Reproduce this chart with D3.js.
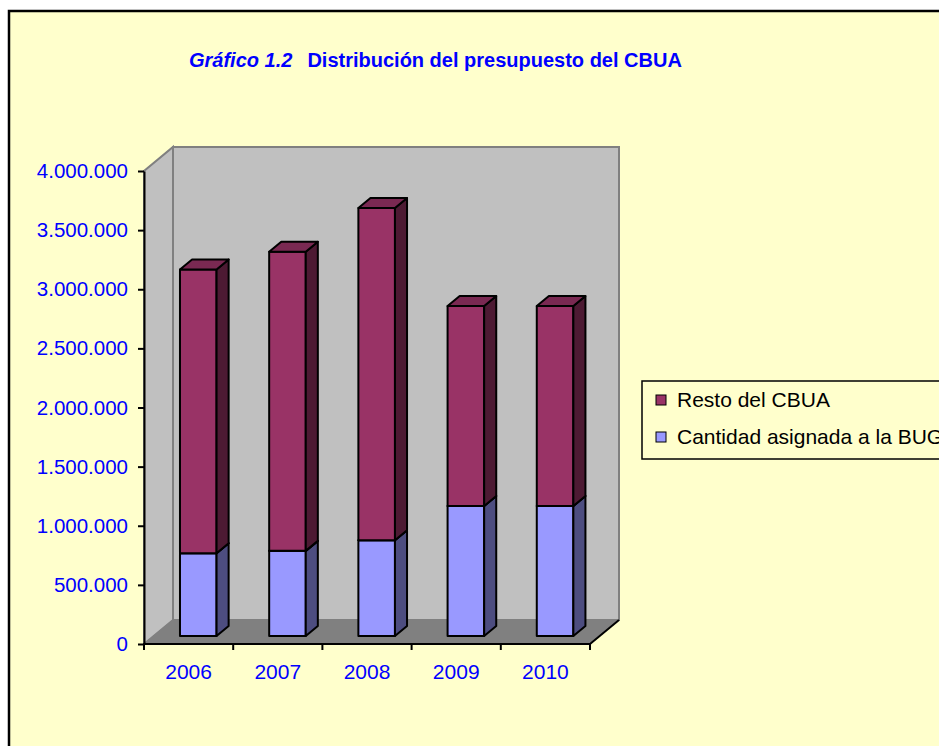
<!DOCTYPE html>
<html>
<head>
<meta charset="utf-8">
<script src="https://cdn.jsdelivr.net/npm/d3@7"></script>
<style>
  body { margin: 0; background: #ffffff; }
  text { font-family: "Liberation Sans", Arial, sans-serif; }
</style>
</head>
<body>
<div id="chart"></div>
<script>

var years = ['2006', '2007', '2008', '2009', '2010'];
var cantidadBUG = [700000, 720000, 810000, 1100000, 1100000];
var restoCBUA = [2400000, 2530000, 2810000, 1690000, 1690000];
var yTicks = [0, 500000, 1000000, 1500000, 2000000, 2500000, 3000000, 3500000, 4000000];
var seriesNames = ['Cantidad asignada a la BUG', 'Resto del CBUA'];

var width = 939, height = 746,
    DX = 29, DY = 24,              // depth of the 3d box
    barDepth = [1 / 3, 0.75],      // bars sit in the middle of the box
    colors = {
      bug:   {front: '#9999ff', side: '#4d4d80', top: '#7a7acc'},
      resto: {front: '#993366', side: '#4d1a33', top: '#7a2952'}
    };

var rows = years.map(function (d, i) {
  return {year: d, bug: cantidadBUG[i], resto: restoCBUA[i]};
});
var stacked = d3.stack().keys(['bug', 'resto'])(rows);

var svg = d3.select('#chart').append('svg')
    .attr('width', width)
    .attr('height', height);

// outer chart area
svg.append('rect')
    .attr('x', 9).attr('y', 11)
    .attr('width', 1000).attr('height', 800)
    .attr('fill', '#ffffcc')
    .attr('stroke', '#000').attr('stroke-width', 2.5);

var x = d3.scaleBand().domain(years).range([144, 590]);
var y = d3.scaleLinear().domain([0, 4000000]).range([644, 171]);

function pt(px, v, depth) {
  return [px + depth * DX, y(v) - depth * DY];
}
function poly(points) {
  return points.map(function (p) { return p.join(','); }).join(' ');
}

var x0 = x.range()[0], x1 = x.range()[1];

// back wall
svg.append('polygon')
    .attr('points', poly([pt(x0, 0, 1), pt(x0, 4000000, 1), pt(x1, 4000000, 1), pt(x1, 0, 1)]))
    .attr('fill', '#c0c0c0').attr('stroke', '#808080').attr('stroke-width', 2);
// left wall
svg.append('polygon')
    .attr('points', poly([pt(x0, 0, 0), pt(x0, 4000000, 0), pt(x0, 4000000, 1), pt(x0, 0, 1)]))
    .attr('fill', '#c0c0c0').attr('stroke', '#808080').attr('stroke-width', 2);
// floor
svg.append('polygon')
    .attr('points', poly([pt(x0, 0, 0), pt(x1, 0, 0), pt(x1, 0, 1), pt(x0, 0, 1)]))
    .attr('fill', '#808080').attr('stroke', '#808080').attr('stroke-width', 1);
svg.append('line')
    .attr('x1', pt(x1, 0, 0)[0]).attr('y1', pt(x1, 0, 0)[1])
    .attr('x2', pt(x1, 0, 1)[0]).attr('y2', pt(x1, 0, 1)[1])
    .attr('stroke', '#000').attr('stroke-width', 2);

// bars
var bw = x.bandwidth() * 0.41,
    f0 = barDepth[0], f1 = barDepth[1];

stacked.forEach(function (layer) {
  var c = colors[layer.key];
  layer.forEach(function (d) {
    var bx0 = x(d.data.year) + (x.bandwidth() - bw) / 2,
        bx1 = bx0 + bw,
        v0 = d[0], v1 = d[1];
    var g = svg.append('g').attr('class', 'bar ' + layer.key);
    g.append('polygon')
        .attr('points', poly([pt(bx0, v0, f0), pt(bx1, v0, f0), pt(bx1, v1, f0), pt(bx0, v1, f0)]))
        .attr('fill', c.front);
    g.append('polygon')
        .attr('points', poly([pt(bx1, v0, f0), pt(bx1, v0, f1), pt(bx1, v1, f1), pt(bx1, v1, f0)]))
        .attr('fill', c.side);
    g.append('polygon')
        .attr('points', poly([pt(bx0, v1, f0), pt(bx1, v1, f0), pt(bx1, v1, f1), pt(bx0, v1, f1)]))
        .attr('fill', c.top);
    g.selectAll('polygon')
        .attr('stroke', '#000').attr('stroke-width', 2).attr('stroke-linejoin', 'round');
  });
});

// y axis
var fmt = d3.formatLocale({decimal: ',', thousands: '.', grouping: [3], currency: ['', '']}).format(',.0f');
var yAxis = d3.axisLeft(y)
    .tickValues(yTicks)
    .tickSize(6)
    .tickSizeOuter(0)
    .tickPadding(10)
    .tickFormat(fmt);

var gy = svg.append('g')
    .attr('transform', 'translate(' + x0 + ',0)')
    .call(yAxis);
gy.select('.domain').attr('stroke', '#000').attr('stroke-width', 2);
gy.selectAll('.tick line').attr('stroke', '#000').attr('stroke-width', 2);
gy.selectAll('.tick text')
    .attr('fill', '#0000ff')
    .style('font-size', '20.5px')
    .style('font-family', '"Liberation Sans", Arial, sans-serif');

// x axis (labels at band centres, ticks at band edges)
var gx = svg.append('g')
    .attr('transform', 'translate(0,' + y(0) + ')')
    .call(d3.axisBottom(x).tickSize(0).tickPadding(20));
gx.select('.domain').remove();
gx.selectAll('.tick text')
    .attr('fill', '#0000ff')
    .style('font-size', '21px')
    .style('font-family', '"Liberation Sans", Arial, sans-serif');

svg.append('line')
    .attr('x1', x0 - 1).attr('x2', x1)
    .attr('y1', y(0)).attr('y2', y(0))
    .attr('stroke', '#000').attr('stroke-width', 2);
var edges = years.map(function (d) { return x(d); }).concat([x1]);
svg.selectAll('.xedge')
    .data(edges)
  .enter().append('line')
    .attr('class', 'xedge')
    .attr('x1', function (d) { return d; })
    .attr('x2', function (d) { return d; })
    .attr('y1', y(0)).attr('y2', y(0) + 6)
    .attr('stroke', '#000').attr('stroke-width', 2);

// title
var title = svg.append('text')
    .attr('x', 189).attr('y', 67)
    .attr('fill', '#0000ff')
    .style('font-size', '20px')
    .style('font-weight', 'bold');
title.append('tspan').style('font-style', 'italic').text('Gráfico 1.2');
title.append('tspan').attr('dx', 15).text('Distribución del presupuesto del CBUA');

// legend
var legend = svg.append('g').attr('transform', 'translate(642,381)');
legend.append('rect')
    .attr('width', 320).attr('height', 78)
    .attr('fill', '#ffffcc')
    .attr('stroke', '#000').attr('stroke-width', 1.5);

var legendItems = [
  {name: seriesNames[1], color: colors.resto.front},
  {name: seriesNames[0], color: colors.bug.front}
];
var li = legend.selectAll('.item')
    .data(legendItems)
  .enter().append('g')
    .attr('class', 'item')
    .attr('transform', function (d, i) { return 'translate(14,' + (14 + i * 37) + ')'; });
li.append('rect')
    .attr('width', 10).attr('height', 10)
    .attr('fill', function (d) { return d.color; })
    .attr('stroke', '#000').attr('stroke-width', 1);
li.append('text')
    .attr('x', 21).attr('y', 12)
    .attr('fill', '#000')
    .style('font-size', '21px')
    .text(function (d) { return d.name; });

</script>
</body>
</html>
